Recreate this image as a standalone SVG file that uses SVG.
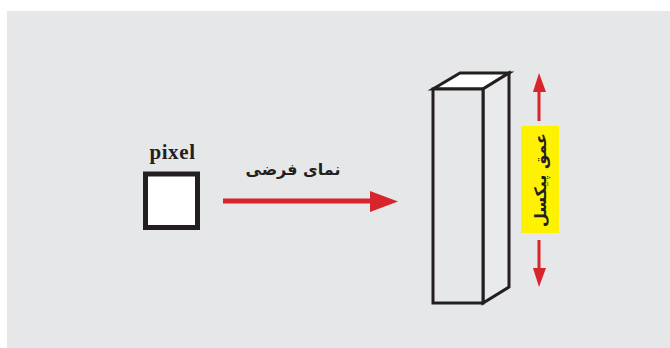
<svg xmlns="http://www.w3.org/2000/svg" width="670" height="348" viewBox="0 0 670 348">
<style>
.bg{fill:#e6e7e9}
.edge{stroke:#231f20;stroke-width:3;stroke-linejoin:miter}
.red{stroke:#d7252b;fill:none}
.redf{fill:#d7252b}
.lab{font-family:"DejaVu Sans",sans-serif;font-weight:bold;font-size:16px;fill:#231f20}
.en{font-family:"Liberation Serif",serif;font-weight:bold;font-size:21px;fill:#231f20}
</style>
<rect class="bg" x="7" y="11" width="663" height="337"/>
<g id="pixel">
<rect x="145.5" y="174" width="52" height="53.5" fill="#ffffff" stroke="#231f20" stroke-width="5"/>
<text class="en" x="172.5" y="158.5" text-anchor="middle" letter-spacing="0.6">pixel</text>
</g>
<g id="prism">
<polygon class="edge" points="433,89 460,73 509,73 483,89" fill="#ffffff"/>
<polygon class="edge" points="483,89 509,73 509,287 483,303" fill="#e9eaec"/>
<rect class="edge" x="433" y="89" width="50" height="214" fill="#e6e7e9"/>
</g>
<g id="depth-label">
<rect x="521" y="126" width="38" height="107" fill="#fff200"/>
<text class="lab" transform="translate(540,180) rotate(-90)" text-anchor="middle" dominant-baseline="central" direction="rtl">عمق پیکسل</text>
</g>
<g id="view-label">
<text class="lab" x="293" y="175" text-anchor="middle" direction="rtl">نمای فرضی</text>
</g>
<g id="connectors">
<line class="red" x1="223" y1="201" x2="372" y2="201" stroke-width="5"/>
<polygon class="redf" points="370,191 398,201.5 370,212"/>
<line class="red" x1="539" y1="90" x2="539" y2="121" stroke-width="3"/>
<polygon class="redf" points="533,92 539,73 546,92"/>
<line class="red" x1="539" y1="240" x2="539" y2="270" stroke-width="3"/>
<polygon class="redf" points="533,268 539,287 546,268"/>
</g>
</svg>
